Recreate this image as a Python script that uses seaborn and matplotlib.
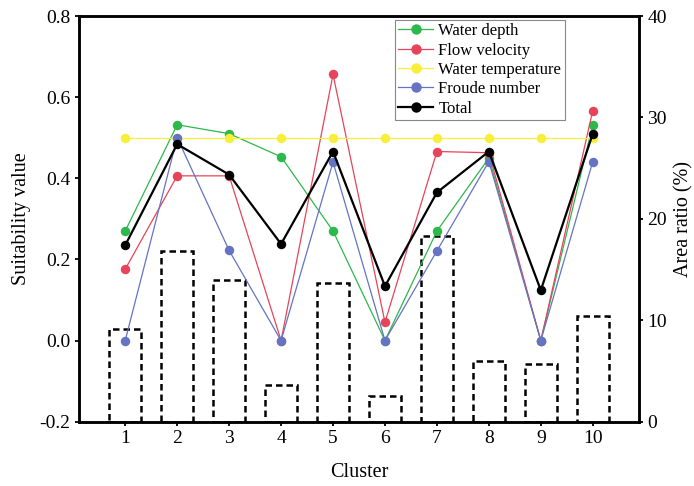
import matplotlib
matplotlib.use("Agg")
import matplotlib.pyplot as plt
import seaborn as sns
import pandas as pd

clusters = [1, 2, 3, 4, 5, 6, 7, 8, 9, 10]
water_depth = [0.27, 0.532, 0.51, 0.453, 0.27, 0.0, 0.27, 0.45, 0.0, 0.532]
flow_velocity = [0.176, 0.406, 0.406, 0.0, 0.656, 0.045, 0.466, 0.463, 0.0, 0.567]
water_temperature = [0.5, 0.5, 0.5, 0.5, 0.5, 0.5, 0.5, 0.5, 0.5, 0.5]
froude_number = [0.0, 0.5, 0.222, 0.0, 0.44, 0.0, 0.221, 0.441, 0.0, 0.441]
total = [0.235, 0.484, 0.409, 0.238, 0.466, 0.134, 0.365, 0.466, 0.124, 0.51]
area_ratio = [9.1, 16.8, 14.0, 3.6, 13.7, 2.5, 18.3, 6.0, 5.7, 10.4]

series_names = ["Water depth", "Flow velocity", "Water temperature", "Froude number", "Total"]
series_values = [water_depth, flow_velocity, water_temperature, froude_number, total]
series_colors = ["#2db84b", "#e6445a", "#f7ef3a", "#6474c2", "#000000"]

plt.rcParams["font.family"] = ["Liberation Serif", "DejaVu Serif"]

fig = plt.figure(figsize=(6.94, 4.86), dpi=100)
ax = fig.add_axes([79 / 694, 1 - 421.7 / 486, (639 - 79) / 694, (421.7 - 16) / 486])
ax2 = ax.twinx()

# bars on secondary axis (drawn beneath lines)
bar_df = pd.DataFrame({"Cluster": clusters, "Area": area_ratio})
sns.barplot(data=bar_df, x="Cluster", y="Area", ax=ax2, native_scale=True,
            width=0.62, color="white", errorbar=None)
for p in ax2.patches:
    p.set_facecolor("none")
    p.set_edgecolor("black")
    p.set_linewidth(1.8)
    p.set_linestyle((0, (2.6, 1.6)))

for name, vals, col in zip(series_names, series_values, series_colors):
    df = pd.DataFrame({"Cluster": clusters, "v": vals})
    lw = 1.6 if name == "Total" else 0.9
    sns.lineplot(data=df, x="Cluster", y="v", ax=ax, color=col, linewidth=lw,
                 marker="o", markersize=6.8, markeredgewidth=0,
                 label=name, zorder=5 if name == "Total" else 3)

ax.set_zorder(ax2.get_zorder() + 1)
ax.patch.set_visible(False)

ax.set_xlim(0.11, 10.89)
ax.set_ylim(-0.2, 0.8)
ax2.set_ylim(0, 40)
ax.set_xticks(clusters)
ax.set_yticks([-0.2, 0.0, 0.2, 0.4, 0.6, 0.8])
ax.set_yticklabels(["-0.2", "0.0", "0.2", "0.4", "0.6", "0.8"])
ax2.set_yticks([0, 10, 20, 30, 40])

ax.set_xlabel("Cluster", fontsize=14.5, labelpad=11.5)
ax.set_ylabel("Suitability value", fontsize=14.5, labelpad=6)
ax2.set_ylabel("Area ratio (%)", fontsize=14.5, labelpad=5)

for a in (ax, ax2):
    for s in a.spines.values():
        s.set_linewidth(1.8)
        s.set_color("black")
    a.tick_params(axis="both", direction="out", length=3, width=1.3,
                  labelsize=14, pad=3)

leg = ax.legend(loc="upper left", bbox_to_anchor=(395 / 694, 1 - 20 / 486),
                bbox_transform=fig.transFigure, borderaxespad=0,
                fontsize=12, frameon=True, fancybox=False,
                edgecolor="#888888", framealpha=1, handlelength=2.1,
                handletextpad=0.3, labelspacing=0.2, borderpad=0.2,
                markerscale=1.1)
leg.get_frame().set_linewidth(0.8)

fig.savefig("out.png", dpi=100)
